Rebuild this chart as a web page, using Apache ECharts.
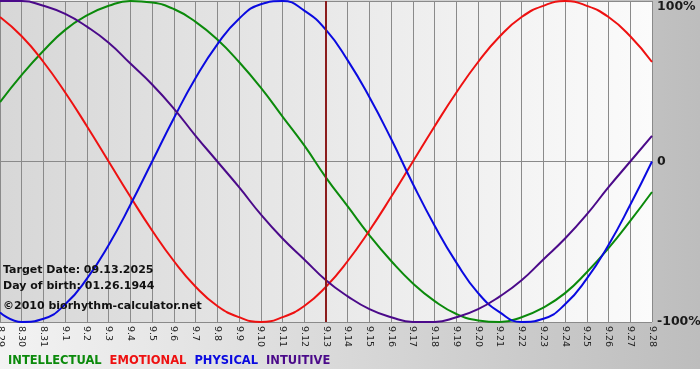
<!DOCTYPE html>
<html>
<head>
<meta charset="utf-8">
<script src="https://cdn.jsdelivr.net/npm/echarts@6/dist/echarts.min.js"></script>
<style>
  html, body { margin: 0; padding: 0; background: #ffffff; }
  #chart { width: 700px; height: 369px; }
</style>
</head>
<body>
<div id="chart"></div>
<script>
  // days shown on the x axis
  var days = ['8.29', '8.30', '8.31', '9.1', '9.2', '9.3', '9.4', '9.5', '9.6', '9.7', '9.8', '9.9', '9.10',
    '9.11', '9.12', '9.13', '9.14', '9.15', '9.16', '9.17', '9.18', '9.19', '9.20', '9.21', '9.22', '9.23',
    '9.24', '9.25', '9.26', '9.27', '9.28'];
  // values in percent
  var intellectual = [37, 54, 69, 82, 91, 97, 100, 99, 95, 87, 76, 62, 46, 28, 10, -10, -28, -46, -62, -76,
    -87, -95, -99, -100, -97, -91, -82, -69, -54, -37, -19];
  var emotional = [90, 78, 62, 43, 22, 0, -22, -43, -62, -78, -90, -97, -100, -97, -90, -78, -62, -43, -22, 0,
    22, 43, 62, 78, 90, 97, 100, 97, 90, 78, 62];
  var physical = [-94, -100, -98, -89, -73, -52, -27, 0, 27, 52, 73, 89, 98, 100, 94, 82, 63, 40, 14, -14,
    -40, -63, -82, -94, -100, -98, -89, -73, -52, -27, 0];
  var intuitive = [100, 100, 97, 92, 84, 74, 61, 48, 33, 16, 0, -16, -33, -48, -61, -74, -84, -92, -97, -100,
    -100, -97, -92, -84, -74, -61, -48, -33, -16, 0, 16];
  var targetDay = '9.13';
  var infoLines = ['Target Date: 09.13.2025', 'Day of birth: 01.26.1944', '\u00a92010 biorhythm-calculator.net'];

  var colors = {
    INTELLECTUAL: '#0b8a0b',
    EMOTIONAL: '#ee1111',
    PHYSICAL: '#0a0ae0',
    INTUITIVE: '#4b0a8a'
  };
  var boldFont = '"DejaVu Sans", Verdana, sans-serif';

  function makeSeries(name, data) {
    return {
      name: name,
      type: 'line',
      data: data,
      smooth: 0.5,
      symbol: 'none',
      lineStyle: { width: 2, color: colors[name] },
      itemStyle: { color: colors[name] }
    };
  }

  var series = [
    makeSeries('INTELLECTUAL', intellectual),
    makeSeries('EMOTIONAL', emotional),
    makeSeries('PHYSICAL', physical),
    makeSeries('INTUITIVE', intuitive)
  ];
  // vertical marker for target date
  series[0].markLine = {
    silent: true,
    symbol: ['none', 'none'],
    label: { show: false },
    lineStyle: { color: '#8b1c1c', width: 2, type: 'solid' },
    data: [{ xAxis: targetDay }]
  };

  var graphics = [];
  var textY = [272, 288, 308];
  for (var i = 0; i < infoLines.length; i++) {
    graphics.push({
      type: 'text',
      left: 3,
      top: textY[i] - 7,
      z: 100,
      style: { text: infoLines[i], font: 'bold 11px ' + boldFont, fill: '#111111' }
    });
  }

  var option = {
    animation: false,
    backgroundColor: new echarts.graphic.LinearGradient(0, 0, 1, 0, [
      { offset: 0, color: '#f3f3f3' },
      { offset: 1, color: '#bdbdbd' }
    ]),
    legend: {
      left: 3,
      top: 355,
      padding: 0,
      itemWidth: 0,
      itemHeight: 0,
      itemGap: 3,
      icon: 'rect',
      selectedMode: false,
      textStyle: { fontFamily: boldFont, fontWeight: 'bold', fontSize: 11.5, padding: 0 },
      data: [
        { name: 'INTELLECTUAL', textStyle: { color: colors.INTELLECTUAL } },
        { name: 'EMOTIONAL', textStyle: { color: colors.EMOTIONAL } },
        { name: 'PHYSICAL', textStyle: { color: colors.PHYSICAL } },
        { name: 'INTUITIVE', textStyle: { color: colors.INTUITIVE } }
      ]
    },
    grid: {
      left: 0,
      right: 48,
      top: 1,
      bottom: 369 - 322,
      outerBoundsMode: 'none',
      containLabel: false,
      show: true,
      borderWidth: 0,
      backgroundColor: new echarts.graphic.LinearGradient(0, 0, 1, 0, [
        { offset: 0, color: '#d7d7d7' },
        { offset: 1, color: '#fbfbfb' }
      ])
    },
    xAxis: {
      type: 'category',
      data: days,
      boundaryGap: false,
      axisLine: { lineStyle: { color: '#8a8a8a', width: 1 } },
      axisTick: { show: true, interval: 0, length: 4, lineStyle: { color: '#8a8a8a' } },
      splitLine: { show: true, interval: 0, lineStyle: { color: '#8a8a8a', width: 1 } },
      axisLabel: {
        interval: 0,
        rotate: -90,
        margin: 4,
        fontSize: 9.5,
        fontFamily: boldFont,
        color: '#222222'
      }
    },
    yAxis: {
      type: 'value',
      position: 'right',
      min: -100,
      max: 100,
      interval: 100,
      axisLine: { show: false },
      axisTick: { show: false },
      splitLine: { show: true, lineStyle: { color: '#8a8a8a', width: 1 } },
      axisLabel: {
        margin: 5,
        fontSize: 12.5,
        fontWeight: 'bold',
        fontFamily: boldFont,
        color: '#1a1a1a',
        formatter: function (v) {
          if (v === 100) return '{top|100%}';
          if (v === 0) return '0';
          return v + '%';
        },
        rich: {
          top: {
            fontSize: 12.5,
            fontWeight: 'bold',
            fontFamily: boldFont,
            color: '#1a1a1a',
            padding: [12, 0, 0, 0]
          }
        }
      }
    },
    graphic: graphics,
    series: series
  };

  var myChart = echarts.init(document.getElementById('chart'));
  myChart.setOption(option);
</script>
</body>
</html>
